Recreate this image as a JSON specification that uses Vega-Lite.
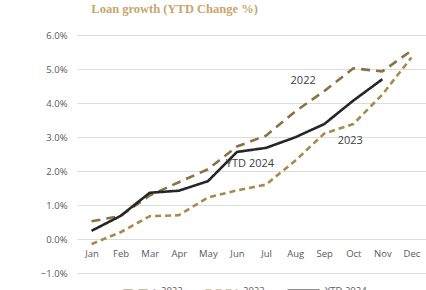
{
  "$schema": "https://vega.github.io/schema/vega-lite/v6.json",
  "autosize": {"type": "none"},
  "width": 349,
  "height": 238,
  "padding": {"left": 77, "top": 35, "right": 0, "bottom": 17},
  "background": "white",
  "title": {
    "text": "Loan growth (YTD Change %)",
    "anchor": "start",
    "dx": 51,
    "offset": 15,
    "font": "Liberation Serif",
    "fontSize": 12.5,
    "fontWeight": "bold",
    "color": "#c8a66b"
  },
  "config": {
    "view": {"stroke": null},
    "axis": {"labelFont": "Open Sans", "labelColor": "#595959", "labelFontSize": 9.5}
  },
  "datasets": {
    "series": [
      {"month": "Jan", "series": "2022", "value": 0.52},
      {"month": "Feb", "series": "2022", "value": 0.68},
      {"month": "Mar", "series": "2022", "value": 1.28},
      {"month": "Apr", "series": "2022", "value": 1.67},
      {"month": "May", "series": "2022", "value": 2.05},
      {"month": "Jun", "series": "2022", "value": 2.72},
      {"month": "Jul", "series": "2022", "value": 3.04},
      {"month": "Aug", "series": "2022", "value": 3.75},
      {"month": "Sep", "series": "2022", "value": 4.35},
      {"month": "Oct", "series": "2022", "value": 5.02},
      {"month": "Nov", "series": "2022", "value": 4.93},
      {"month": "Dec", "series": "2022", "value": 5.54},
      {"month": "Jan", "series": "2023", "value": -0.15},
      {"month": "Feb", "series": "2023", "value": 0.2},
      {"month": "Mar", "series": "2023", "value": 0.67},
      {"month": "Apr", "series": "2023", "value": 0.7},
      {"month": "May", "series": "2023", "value": 1.22},
      {"month": "Jun", "series": "2023", "value": 1.43},
      {"month": "Jul", "series": "2023", "value": 1.6},
      {"month": "Aug", "series": "2023", "value": 2.3},
      {"month": "Sep", "series": "2023", "value": 3.1},
      {"month": "Oct", "series": "2023", "value": 3.38},
      {"month": "Nov", "series": "2023", "value": 4.25},
      {"month": "Dec", "series": "2023", "value": 5.34},
      {"month": "Jan", "series": "YTD 2024", "value": 0.24},
      {"month": "Feb", "series": "YTD 2024", "value": 0.68},
      {"month": "Mar", "series": "YTD 2024", "value": 1.36},
      {"month": "Apr", "series": "YTD 2024", "value": 1.42},
      {"month": "May", "series": "YTD 2024", "value": 1.7},
      {"month": "Jun", "series": "YTD 2024", "value": 2.56},
      {"month": "Jul", "series": "YTD 2024", "value": 2.68},
      {"month": "Aug", "series": "YTD 2024", "value": 2.99},
      {"month": "Sep", "series": "YTD 2024", "value": 3.38},
      {"month": "Oct", "series": "YTD 2024", "value": 4.07},
      {"month": "Nov", "series": "YTD 2024", "value": 4.7}
    ],
    "labels": [
      {"month": "Aug", "value": 4.65, "label": "2022", "dx": 8},
      {"month": "Oct", "value": 2.88, "label": "2023", "dx": -3},
      {"month": "Jun", "value": 2.2, "label": "YTD 2024", "dx": 13}
    ]
  },
  "layer": [
    {
      "data": {"name": "series"},
      "mark": {"type": "line", "strokeWidth": 2.6},
      "encoding": {
        "x": {
          "field": "month", "type": "ordinal", "sort": null,
          "scale": {"type": "point", "padding": 0.5},
          "axis": {"title": null, "domain": false, "ticks": false, "grid": false, "labelAngle": 0, "offset": -33, "labelPadding": 8}
        },
        "y": {
          "field": "value", "type": "quantitative",
          "scale": {"domain": [-1, 6], "nice": false, "zero": false},
          "axis": {"title": null, "values": [-1, 0, 1, 2, 3, 4, 5, 6], "tickCount": 8, "labelOverlap": false, "labelBound": false, "labelFlush": false, "labelExpr": "format(datum.value, '.1f') + '%'", "domain": false, "ticks": false, "gridColor": "#dcdcdc", "gridWidth": 1, "labelPadding": 10}
        },
        "color": {
          "field": "series", "type": "nominal",
          "scale": {"domain": ["2022", "2023", "YTD 2024"], "range": ["#8a7242", "#a88a4c", "#262626"]},
          "legend": {"title": null, "orient": "none", "legendX": 45, "legendY": 238, "direction": "horizontal", "symbolType": "stroke", "symbolSize": 1024, "symbolStrokeWidth": 2.5, "labelFont": "Open Sans", "labelFontSize": 9.5, "labelColor": "#595959", "labelOffset": 4, "columnPadding": 16}
        },
        "strokeDash": {
          "field": "series", "type": "nominal",
          "scale": {"domain": ["2022", "2023", "YTD 2024"], "range": [[9, 6], [6, 4], [1, 0]]},
          "legend": null
        },
        "strokeWidth": {
          "field": "series", "type": "nominal",
          "scale": {"domain": ["2022", "2023", "YTD 2024"], "range": [2.8, 2.8, 2]},
          "legend": null
        }
      }
    },
    {
      "data": {"name": "labels"},
      "mark": {"type": "text", "font": "Open Sans", "fontSize": 11, "color": "#404040"},
      "encoding": {
        "x": {"field": "month", "type": "ordinal", "sort": null},
        "y": {"field": "value", "type": "quantitative"},
        "text": {"field": "label"},
        "xOffset": {"field": "dx", "type": "quantitative", "scale": null}
      }
    }
  ]
}
